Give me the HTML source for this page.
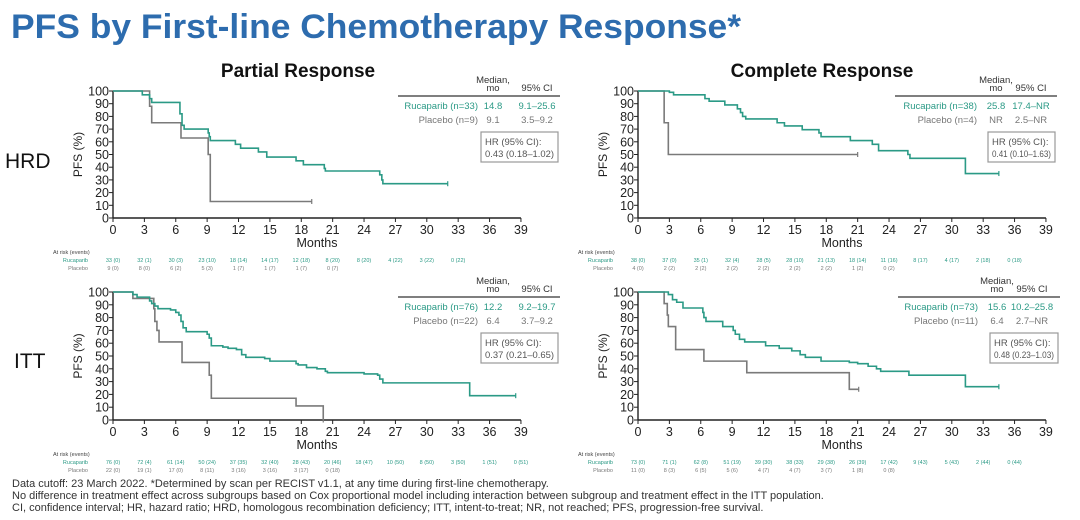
<!DOCTYPE html>
<html><head><meta charset="utf-8"><style>
body{margin:0;background:#fff;width:1080px;height:515px;overflow:hidden;font-family:"Liberation Sans",sans-serif}
svg text{font-family:"Liberation Sans",sans-serif}
</style></head><body>
<svg id="s" width="1080" height="515" xmlns="http://www.w3.org/2000/svg">
<text x="11" y="38" font-size="34" font-weight="bold" fill="#2d6cae" textLength="730" lengthAdjust="spacingAndGlyphs">PFS by First-line Chemotherapy Response*</text>
<text x="298" y="77" font-size="19" font-weight="bold" text-anchor="middle" fill="#111">Partial Response</text>
<text x="822" y="77" font-size="19" font-weight="bold" text-anchor="middle" fill="#111">Complete Response</text>
<text x="5" y="168" font-size="21" fill="#111">HRD</text>
<text x="14" y="368" font-size="21" fill="#111">ITT</text>
<g font-size="11" fill="#333">
<text x="12" y="487">Data cutoff: 23 March 2022. *Determined by scan per RECIST v1.1, at any time during first-line chemotherapy.</text>
<text x="12" y="499">No difference in treatment effect across subgroups based on Cox proportional model including interaction between subgroup and treatment effect in the ITT population.</text>
<text x="12" y="511">CI, confidence interval; HR, hazard ratio; HRD, homologous recombination deficiency; ITT, intent-to-treat; NR, not reached; PFS, progression-free survival.</text>
</g>
</svg>
<script>
const S=document.getElementById('s'),NS='http://www.w3.org/2000/svg';
function el(t,a,txt){const e=document.createElementNS(NS,t);for(const k in a)e.setAttribute(k,a[k]);if(txt!==undefined)e.textContent=txt;S.appendChild(e);return e;}
const G='#2b9a86',P='#7a7a7a';
function panel(o){
 const x0=o.x0,y0=o.y0,y100=o.y100,px=10.46,py=(y0-y100)/100;
 const X=m=>x0+m*px,Y=v=>y0-v*py;
 el('line',{x1:x0,y1:y100,x2:x0,y2:y0,stroke:'#222','stroke-width':1.4});
 el('line',{x1:x0,y1:y0,x2:X(39),y2:y0,stroke:'#222','stroke-width':1.4});
 for(let v=0;v<=100;v+=10){el('line',{x1:x0-4,y1:Y(v),x2:x0,y2:Y(v),stroke:'#222'});el('text',{x:x0-4,y:Y(v)+4.5,'font-size':12.5,'text-anchor':'end',fill:'#222'},v);}
 for(let m=0;m<=39;m+=3){el('line',{x1:X(m),y1:y0,x2:X(m),y2:y0+4,stroke:'#222'});el('text',{x:X(m),y:y0+16,'font-size':12.5,'text-anchor':'middle',fill:'#222'},m);}
 el('text',{x:X(19.5),y:y0+29,'font-size':12.5,'text-anchor':'middle',fill:'#222'},'Months');
 el('text',{x:x0-31,y:(y0+y100)/2,'font-size':12,'text-anchor':'middle',fill:'#222',transform:`rotate(-90 ${x0-31} ${(y0+y100)/2})`},'PFS (%)');
 function curve(pts,c){let d=`M${X(0)},${Y(100)}`,cur=100;for(const [t,v] of pts){d+=`L${X(t)},${Y(cur)}L${X(t)},${Y(v)}`;cur=v;}d+=`L${X(o.end[c])},${Y(cur)}`;el('path',{d,fill:'none',stroke:c==0?G:P,'stroke-width':1.6});
  el('line',{x1:X(o.end[c]),y1:Y(cur)-2.5,x2:X(o.end[c]),y2:Y(cur)+2.5,stroke:c==0?G:P,'stroke-width':1.2});}
 curve(o.pla,1);curve(o.ruc,0);
 const ay=y0+36;
 el('text',{x:x0-60,y:ay,'font-size':5.5,fill:'#444'},'At risk (events)');
 el('text',{x:x0-25,y:ay+8,'font-size':5.5,fill:G,'text-anchor':'end'},'Rucaparib');
 el('text',{x:x0-25,y:ay+16,'font-size':5.5,fill:P,'text-anchor':'end'},'Placebo');
 o.rr.forEach((t,i)=>el('text',{x:X(i*3),y:ay+8,'font-size':5.5,fill:G,'text-anchor':'middle'},t));
 o.pr.forEach((t,i)=>el('text',{x:X(i*3),y:ay+16,'font-size':5.5,fill:P,'text-anchor':'middle'},t));
 const L=o.leg,ly=o.ly;
 el('text',{x:L.m,y:ly-9,'font-size':9.5,'text-anchor':'middle',fill:'#333'},'Median,');
 el('text',{x:L.m,y:ly-1,'font-size':9.5,'text-anchor':'middle',fill:'#333'},'mo');
 el('text',{x:L.c,y:ly-1,'font-size':9.5,'text-anchor':'middle',fill:'#333'},'95% CI');
 el('line',{x1:L.l1,y1:ly+4,x2:L.l2,y2:ly+4,stroke:'#333','stroke-width':1.3});
 el('text',{x:L.lab,y:ly+17,'font-size':9.5,'text-anchor':'end',fill:G},L.r[0]);
 el('text',{x:L.m,y:ly+17,'font-size':9.5,'text-anchor':'middle',fill:G},L.r[1]);
 el('text',{x:L.c,y:ly+17,'font-size':9.5,'text-anchor':'middle',fill:G},L.r[2]);
 el('text',{x:L.lab,y:ly+31,'font-size':9.5,'text-anchor':'end',fill:'#777'},L.p[0]);
 el('text',{x:L.m,y:ly+31,'font-size':9.5,'text-anchor':'middle',fill:'#777'},L.p[1]);
 el('text',{x:L.c,y:ly+31,'font-size':9.5,'text-anchor':'middle',fill:'#777'},L.p[2]);
 el('rect',{x:L.bx,y:ly+40,width:L.l2-L.bx-2,height:30,fill:'none',stroke:'#999','stroke-width':1.2});
 el('text',{x:L.bx+4,y:ly+53,'font-size':9.5,fill:'#555'},'HR (95% CI):');
 el('text',{x:L.bx+4,y:ly+65,'font-size':9.5,fill:'#555',textLength:L.l2-L.bx-10,lengthAdjust:'spacingAndGlyphs'},L.hr);
}
panel({x0:113,y0:218,y100:91,end:[32,19],ly:92,
 leg:{m:493,c:537,l1:398,l2:560,lab:478,bx:481,r:['Rucaparib (n=33)','14.8','9.1–25.6'],p:['Placebo (n=9)','9.1','3.5–9.2'],hr:'0.43 (0.18–1.02)'},
 ruc:[[2.8,97],[3.5,94],[3.7,91],[6.4,82],[6.6,73],[6.8,70],[9.1,67],[9.2,64],[9.3,61],[11.7,58],[12.2,55],[13.9,52],[14.7,48],[17.5,45],[18.2,42],[20.2,39],[20.3,37],[25.5,34],[25.7,30],[25.8,27]],
 pla:[[3.5,88],[3.7,75],[6.5,63],[9.1,50],[9.3,13]],
 rr:['33 (0)','32 (1)','30 (3)','23 (10)','18 (14)','14 (17)','12 (18)','8 (20)','8 (20)','4 (22)','3 (22)','0 (22)'],
 pr:['9 (0)','8 (0)','6 (2)','5 (3)','1 (7)','1 (7)','1 (7)','0 (7)']});
panel({x0:638,y0:218,y100:91,end:[34.5,21],ly:92,
 leg:{m:996,c:1031,l1:895,l2:1057,lab:977,bx:988,r:['Rucaparib (n=38)','25.8','17.4–NR'],p:['Placebo (n=4)','NR','2.5–NR'],hr:'0.41 (0.10–1.63)'},
 ruc:[[3,99],[3.4,97],[6.4,94],[6.8,92],[8.3,89],[9.5,86],[9.8,83],[10,80],[10.3,78],[13.3,75],[14,72.5],[15.7,69.5],[17.3,67],[17.5,64],[20.3,61],[22.4,58],[23,53],[25.8,50],[26,47],[31.3,35]],
 pla:[[2.5,75],[2.9,50]],
 rr:['38 (0)','37 (0)','35 (1)','32 (4)','28 (5)','28 (10)','21 (13)','18 (14)','11 (16)','8 (17)','4 (17)','2 (18)','0 (18)'],
 pr:['4 (0)','2 (2)','2 (2)','2 (2)','2 (2)','2 (2)','2 (2)','1 (2)','0 (2)']});
panel({x0:113,y0:420,y100:292,end:[38.5,20.1],ly:293,
 leg:{m:493,c:537,l1:398,l2:560,lab:478,bx:481,r:['Rucaparib (n=76)','12.2','9.2–19.7'],p:['Placebo (n=22)','6.4','3.7–9.2'],hr:'0.37 (0.21–0.65)'},
 ruc:[[1.9,98],[2.3,96],[3.5,93],[3.7,91],[4,89],[4.3,87],[5.5,86],[6,84],[6.3,82],[6.5,77],[6.7,72],[7,69],[9,67],[9.2,64],[9.4,58],[10.5,57],[11,56],[11.8,55],[12.3,51],[12.7,49],[14.5,48],[15,46],[17.5,44],[17.7,43],[18.5,41],[19.5,40],[20.3,38],[20.5,37],[24,36],[25.3,35],[25.5,32],[25.8,29],[34.1,19]],
 pla:[[1.9,95],[3.9,87],[4.0,77],[4.2,70],[4.4,61],[6.6,45],[9.2,35],[9.4,17],[17.5,11],[20.1,0]],
 rr:['76 (0)','72 (4)','61 (14)','50 (24)','37 (35)','32 (40)','28 (43)','20 (46)','18 (47)','10 (50)','8 (50)','3 (50)','1 (51)','0 (51)'],
 pr:['22 (0)','19 (1)','17 (0)','8 (11)','3 (16)','3 (16)','3 (17)','0 (18)']});
panel({x0:638,y0:420,y100:292,end:[34.5,21.1],ly:293,
 leg:{m:997,c:1032,l1:898,l2:1060,lab:978,bx:990,r:['Rucaparib (n=73)','15.6','10.2–25.8'],p:['Placebo (n=11)','6.4','2.7–NR'],hr:'0.48 (0.23–1.03)'},
 ruc:[[2.9,98],[3.3,94],[3.7,92],[4.3,87.5],[6.2,84],[6.3,80],[6.5,77],[8.1,73],[9.1,70],[9.3,67],[9.7,63],[10.2,61],[12.2,58],[13.5,56],[14.7,54],[15.5,51],[16,49],[17.5,46],[20.2,45],[21,44],[22,42],[22.8,40],[23.2,38],[25.9,35],[31.3,26]],
 pla:[[2.5,91],[2.8,82],[2.9,73],[3.6,55],[6.3,46],[10.4,37],[20.2,24]],
 rr:['73 (0)','71 (1)','62 (8)','51 (19)','39 (30)','38 (33)','29 (38)','26 (39)','17 (42)','9 (43)','5 (43)','2 (44)','0 (44)'],
 pr:['11 (0)','8 (3)','6 (5)','5 (6)','4 (7)','4 (7)','3 (7)','1 (8)','0 (8)']});
</script>
</body></html>
